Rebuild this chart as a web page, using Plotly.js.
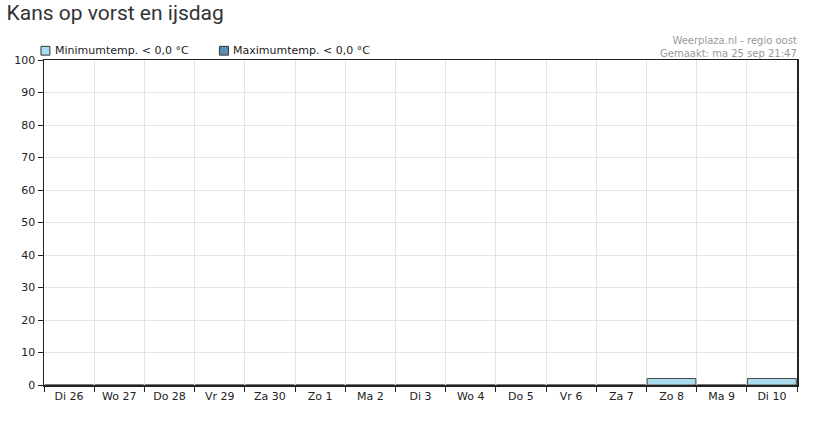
<!DOCTYPE html>
<html><head><meta charset="utf-8">
<script src="https://cdn.plot.ly/plotly-3.0.1.min.js"></script>
<style>html,body{margin:0;padding:0;background:#fff}#c{width:823px;height:429px}</style>
</head><body><div id="c"></div>
<script>
const days = ["Di 26","Wo 27","Do 28","Vr 29","Za 30","Zo 1","Ma 2","Di 3","Wo 4","Do 5","Vr 6","Za 7","Zo 8","Ma 9","Di 10"];
const minTemp = [0,0,0,0,0,0,0,0,0,0,0,0,2,0,2];
const maxTemp = [0,0,0,0,0,0,0,0,0,0,0,0,0,0,0];
const yTicks = [0,10,20,30,40,50,60,70,80,90,100];
const minName = "Minimumtemp. < 0,0 °C";
const maxName = "Maximumtemp. < 0,0 °C";
const minColor = "#a9dcee", maxColor = "#5b8fb4";

const font = {family:"DejaVu Sans, Verdana, sans-serif", size:11, color:"#222"};
const traces = [
  {type:"bar", x:days, y:minTemp, name:minName, marker:{color:minColor, line:{color:"#4a4a4a", width:1}}, showlegend:false, hoverinfo:"x+y"},
  {type:"bar", x:days, y:maxTemp, name:maxName, marker:{color:maxColor, line:{color:"#4a4a4a", width:0}}, showlegend:false, hoverinfo:"x+y"}
];
const layout = {
  width:823, height:429,
  margin:{l:44, r:26, t:60, b:44},
  paper_bgcolor:"#fff", plot_bgcolor:"#fff",
  font:font,
  barmode:"overlay", bargap:0.03,
  title:{text:"Kans op vorst en ijsdag", x:0.008, xanchor:"left", xref:"container", y:0.988, yanchor:"top", yref:"container",
         font:{family:"Roboto, sans-serif", size:21, color:"#333"}},
  xaxis:{type:"category", tickson:"boundaries", ticks:"outside", ticklen:5, tickcolor:"#222",
         showgrid:true, gridcolor:"#e4e4e4", showline:true, linecolor:"#222", linewidth:1.5, mirror:true,
         tickfont:font, fixedrange:true},
  yaxis:{range:[0,100], tickvals:yTicks, ticks:"outside", ticklen:5, tickcolor:"#222",
         showgrid:true, gridcolor:"#e4e4e4", showline:true, linecolor:"#222", linewidth:1.5, mirror:true,
         zeroline:false, tickfont:font, fixedrange:true},
  shapes:[
    {type:"rect", xref:"paper", yref:"paper", x0:-0.004, x1:0.0078, y0:1.015, y1:1.042, fillcolor:minColor, line:{color:"#333", width:1}},
    {type:"rect", xref:"paper", yref:"paper", x0:0.233, x1:0.245, y0:1.015, y1:1.042, fillcolor:maxColor, line:{color:"#333", width:1}}
  ],
  annotations:[
    {text:minName, xref:"paper", yref:"paper", x:0.012, y:1.028, xanchor:"left", yanchor:"middle", showarrow:false, font:font},
    {text:maxName, xref:"paper", yref:"paper", x:0.249, y:1.028, xanchor:"left", yanchor:"middle", showarrow:false, font:font},
    {text:"Weerplaza.nl - regio oost<br>Gemaakt: ma 25 sep 21:47", xref:"paper", yref:"paper", x:1.003, y:0.998, xanchor:"right", yanchor:"bottom",
     align:"right", showarrow:false, font:{family:"DejaVu Sans, Verdana, sans-serif", size:10, color:"#999"}}
  ]
};
Plotly.newPlot("c", traces, layout, {displayModeBar:false, staticPlot:true});
</script></body></html>
